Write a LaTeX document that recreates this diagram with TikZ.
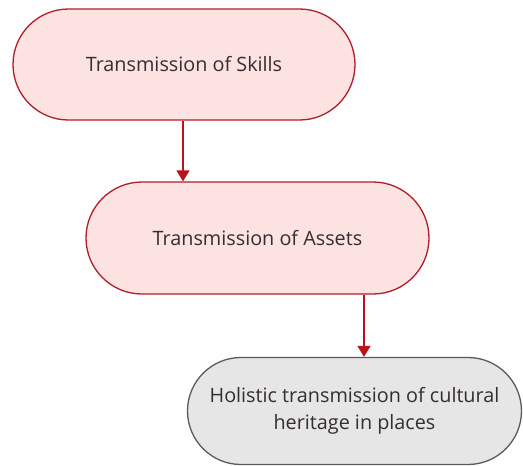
\documentclass[tikz,border=0pt]{standalone}
\usepackage{fontspec}
\setmainfont{Open Sans}
\usetikzlibrary{shapes.misc,arrows.meta}
\definecolor{pinkfill}{HTML}{FDE2E2}
\definecolor{redline}{HTML}{B01E2A}
\definecolor{grayfill}{HTML}{E6E6E6}
\definecolor{grayline}{HTML}{5A5A5A}
\definecolor{arrowred}{HTML}{B8141C}
\definecolor{txt}{HTML}{352E30}
\tikzset{
  x=1pt,y=-1pt,
  stadium/.style={rounded rectangle, draw, line width=1.3pt, inner sep=0pt, text=txt, font=\fontsize{19.8}{27}\selectfont, align=center},
  redbox/.style={stadium, fill=pinkfill, draw=redline},
  graybox/.style={stadium, fill=grayfill, draw=grayline},
  conn/.style={draw=arrowred, line width=1.4pt, -{Triangle[length=11pt,width=13pt]}}
}
\begin{document}
\begin{tikzpicture}
\useasboundingbox (0,0) rectangle (523,466);
\node[redbox, minimum width=342pt, minimum height=111pt] (a) at (184,64.5) {Transmission of Skills};
\node[redbox, minimum width=343pt, minimum height=112pt] (b) at (257.5,238) {Transmission of Assets};
\node[graybox, minimum width=334pt, minimum height=107pt] (c) at (354.5,411) {Holistic transmission of cultural\\heritage in places};
\draw[conn] (a.south -| 183,0) -- (b.north -| 183,0);
\draw[conn] (b.south -| 364,0) -- (c.north -| 364,0);
\end{tikzpicture}
\end{document}
